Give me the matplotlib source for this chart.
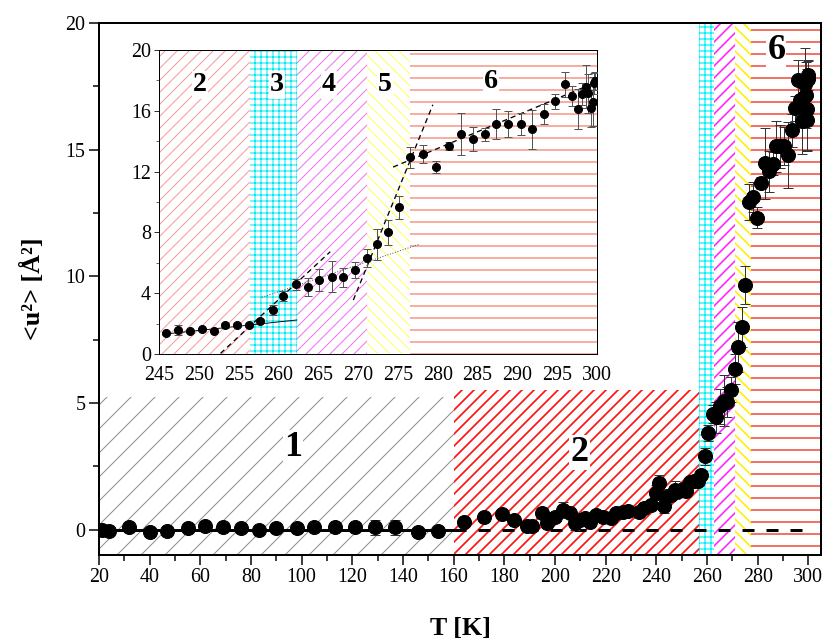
import matplotlib
matplotlib.use("Agg")
import matplotlib.pyplot as plt
from matplotlib.ticker import MultipleLocator

plt.rcParams['font.family'] = ['Liberation Serif', 'DejaVu Serif']

# low temperature points (main plot only)
T_low = [21, 24, 32, 40, 47, 55, 62, 69, 76, 83, 90, 98, 105, 113, 121, 129, 137,
         146, 154, 164, 172, 179, 184, 189, 191, 195, 197, 200, 203, 206, 208, 210,
         212, 214, 216, 219, 222, 224, 227, 229, 233, 235, 238, 240, 241, 243, 244]
u_low = [0.0, -0.05, 0.1, -0.1, -0.05, 0.05, 0.15, 0.12, 0.05, 0.0, 0.05, 0.05, 0.12,
         0.1, 0.1, 0.1, 0.1, -0.1, -0.05, 0.29, 0.51, 0.63, 0.37, 0.13, 0.13, 0.67,
         0.28, 0.5, 0.78, 0.67, 0.28, 0.4, 0.47, 0.32, 0.59, 0.51, 0.47, 0.67, 0.71,
         0.75, 0.71, 0.87, 0.99, 1.46, 1.86, 0.95, 1.30]
err_low = [0.05, 0.05, 0.05, 0.05, 0.05, 0.05, 0.05, 0.05, 0.05, 0.05, 0.05, 0.05, 0.05,
           0.05, 0.05, 0.3, 0.3, 0.05, 0.05, 0.1, 0.1, 0.1, 0.1, 0.1, 0.1, 0.2, 0.2, 0.2,
           0.3, 0.2, 0.3, 0.2, 0.2, 0.2, 0.2, 0.2, 0.2, 0.2, 0.2, 0.2, 0.2, 0.2, 0.2,
           0.3, 0.3, 0.3, 0.3]

# 245 - 300 K points (inset and main plot)
T_high = [245.9, 247.4, 248.9, 250.4, 251.9, 253.3, 254.8, 256.3, 257.7, 259.3, 260.6,
          262.2, 263.7, 265.1, 266.7, 268.1, 269.6, 271.1, 272.4, 273.8, 275.1, 276.5,
          278.1, 279.8, 281.4, 282.9, 284.4, 286.0, 287.4, 288.9, 290.5, 291.9, 293.4,
          294.8, 296.0, 296.9, 297.7, 298.2, 298.6, 298.9, 299.3, 299.5, 299.7, 299.8]
u_high = [1.36, 1.58, 1.51, 1.62, 1.54, 1.89, 1.91, 1.91, 2.17, 2.89, 3.82, 4.58, 4.43,
          4.87, 5.09, 5.04, 5.53, 6.34, 7.21, 8.0, 9.65, 12.94, 13.14, 12.32, 13.68,
          14.47, 14.14, 14.45, 15.13, 15.13, 15.13, 14.78, 15.77, 16.64, 17.74, 16.97,
          16.12, 17.1, 17.6, 17.15, 16.16, 16.6, 17.8, 17.96]
err_high = [0.1, 0.35, 0.1, 0.1, 0.1, 0.15, 0.15, 0.15, 0.15, 0.35, 0.3, 0.35, 0.6, 0.7,
            1.0, 0.6, 0.5, 0.6, 1.0, 0.8, 0.75, 0.7, 0.6, 0.4, 0.25, 1.4, 0.8, 0.45,
            1.0, 0.85, 0.75, 1.3, 0.65, 0.5, 0.8, 0.65, 1.3, 0.7, 1.4, 1.3, 1.2, 1.6,
            0.7, 0.6]

# dynamical regions of the main plot
region_names = ['1', '2', '3', '4', '5', '6']
region_edges = [20, 160, 256.7, 262.6, 271, 277.4, 305]
region_tops = [5.25, 5.5, 20, 20, 20, 20]
region_colors = ['#8c8c8c', '#ff1a1a', '#00f0f8', '#ff22ff', '#ffee00', '#f04535']
region_hatch = ['/', '//', '++', '//', '\\\\', '-']
region_hlw = [1.0, 1.8, 1.2, 1.6, 1.6, 1.5]
label_T = [96.5, 209.7, 287.4]
label_u = [3.25, 3.05, 18.9]
label_text = ['1', '2', '6']

# regions of the inset
inset_names = ['2', '3', '4', '5', '6']
inset_edges = [245, 256.4, 262.3, 271.1, 276.5, 300]
inset_colors = ['#f59a9a', '#00e8f0', '#f070f0', '#ffff60', '#f29585']
inset_hatch = ['//', '++', '//', '\\\\', '-']
inset_hlw = [1.0, 1.0, 1.0, 1.0, 1.5]
inset_label_T = [250.1, 259.8, 266.3, 273.4, 286.7]
inset_label_u = [17.7, 17.7, 17.7, 17.7, 17.9]

# linear fits drawn in the inset
fit_solid_T = [245.5, 262.3]
fit_solid_u = [1.3, 2.24]
fit_dash1_T = [252.7, 266.5]
fit_dash1_u = [0.04, 6.73]
fit_dot_T = [257.9, 277.8]
fit_dot_u = [3.73, 7.24]
fit_dash2_T = [269.4, 279.4]
fit_dash2_u = [3.55, 16.4]
fit_dash3_T = [274.4, 300]
fit_dash3_u = [12.3, 17.9]

# zero baseline
base_solid_T = [20, 160]
base_dash_T = [160, 300]

fig = plt.figure(figsize=(827 / 72, 644 / 72), dpi=72)
ax = fig.add_axes([0.1197, 0.1382, 0.873, 0.826])

for i in range(len(region_names)):
    with plt.rc_context({'hatch.linewidth': region_hlw[i]}):
        ax.fill_between([region_edges[i], region_edges[i + 1]], -1, region_tops[i],
                        facecolor='white', edgecolor=region_colors[i], hatch=region_hatch[i],
                        linewidth=0, zorder=0)

for t, u, s in zip(label_T, label_u, label_text):
    ax.text(t, u, s, fontsize=36, fontweight='bold', ha='center', va='center',
            bbox=dict(facecolor='white', edgecolor='none', pad=1), zorder=2)

ax.plot(base_solid_T, [0, 0], color='black', lw=3, zorder=3)
ax.plot(base_dash_T, [0, 0], color='black', lw=3, dashes=(4, 4), zorder=3)

ax.errorbar(T_low + T_high, u_low + u_high, yerr=err_low + err_high, fmt='o', color='black',
            ms=14, ecolor='#333333', elinewidth=1, capsize=5, capthick=1, zorder=4)

ax.set_xlim(20, 305)
ax.set_ylim(-1, 20)
ax.xaxis.set_major_locator(MultipleLocator(20))
ax.xaxis.set_minor_locator(MultipleLocator(10))
ax.yaxis.set_major_locator(MultipleLocator(5))
ax.yaxis.set_minor_locator(MultipleLocator(2.5))
ax.tick_params(which='both', direction='out', width=1.5, labelsize=20)
ax.tick_params(which='major', length=10)
ax.tick_params(which='minor', length=6)
for sp in ax.spines.values():
    sp.set_linewidth(2)
ax.set_xlabel('T [K]', fontsize=26, fontweight='bold', labelpad=30)
ax.set_ylabel('<u²> [Å²]', fontsize=26, fontweight='bold', labelpad=20)

# inset
axin = fig.add_axes([0.1926, 0.4503, 0.5289, 0.472])
for i in range(len(inset_names)):
    with plt.rc_context({'hatch.linewidth': inset_hlw[i]}):
        axin.axvspan(inset_edges[i], inset_edges[i + 1], facecolor='white',
                     edgecolor=inset_colors[i], hatch=inset_hatch[i], linewidth=0, zorder=0)
for t, u, s in zip(inset_label_T, inset_label_u, inset_names):
    axin.text(t, u, s, fontsize=28, fontweight='bold', ha='center', va='center',
              bbox=dict(facecolor='white', edgecolor='none', pad=1), zorder=2)

axin.plot(fit_solid_T, fit_solid_u, color='black', lw=0.9, zorder=3)
axin.plot(fit_dash1_T, fit_dash1_u, color='black', lw=1.3, dashes=(4, 3), zorder=3)
axin.plot(fit_dot_T, fit_dot_u, color='#555555', lw=1, linestyle=':', zorder=3)
axin.plot(fit_dash2_T, fit_dash2_u, color='black', lw=1.3, dashes=(4, 3), zorder=3)
axin.plot(fit_dash3_T, fit_dash3_u, color='black', lw=1.3, dashes=(4, 3), zorder=3)

axin.errorbar(T_high, u_high, yerr=err_high, fmt='o', color='black', ms=8,
              ecolor='#555555', elinewidth=1, capsize=4, capthick=1, zorder=4)

axin.set_xlim(245, 300)
axin.set_ylim(0, 20)
axin.xaxis.set_major_locator(MultipleLocator(5))
axin.yaxis.set_major_locator(MultipleLocator(4))
axin.yaxis.set_minor_locator(MultipleLocator(2))
axin.tick_params(axis='y', which='both', direction='out', labelsize=20)
axin.tick_params(axis='y', which='major', length=5)
axin.tick_params(axis='y', which='minor', length=3)
axin.tick_params(axis='x', length=0, labelsize=20, pad=12)
for sp in axin.spines.values():
    sp.set_linewidth(1)

fig.savefig('out.png', dpi=72)
